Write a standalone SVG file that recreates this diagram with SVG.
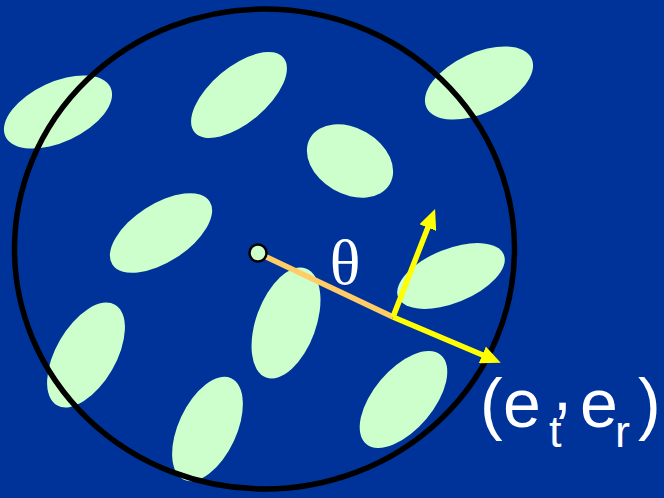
<svg xmlns="http://www.w3.org/2000/svg" width="664" height="498" viewBox="0 0 664 498">
<defs>
<style>
.blob{fill:#CCFFCC;stroke:none}
.yel{stroke:#FFFF00;stroke-width:5.5;fill:none}
.lbl{fill:#FFFFFF;font-family:"Liberation Sans",Arial,sans-serif}
</style>
<marker id="ah" markerUnits="userSpaceOnUse" markerWidth="20" markerHeight="18" refX="8" refY="9" orient="auto" viewBox="0 0 20 18">
<path d="M0,0 L20,9 L0,18 z" fill="#FFFF00"/>
</marker>
</defs>
<rect width="664" height="498" fill="#003399"/>
<g id="particles">
<ellipse class="blob" cx="0" cy="0" rx="58" ry="30" transform="translate(58,112) rotate(-25)"/>
<ellipse class="blob" cx="0" cy="0" rx="58" ry="28" transform="translate(239,95) rotate(-40)"/>
<ellipse class="blob" cx="0" cy="0" rx="58" ry="30" transform="translate(479,83) rotate(-25)"/>
<ellipse class="blob" cx="0" cy="0" rx="46" ry="33" transform="translate(350,161) rotate(30)"/>
<ellipse class="blob" cx="0" cy="0" rx="58" ry="29" transform="translate(161,233) rotate(-33)"/>
<ellipse class="blob" cx="0" cy="0" rx="57" ry="27" transform="translate(451,276) rotate(-22)"/>
<ellipse class="blob" cx="0" cy="0" rx="58" ry="30" transform="translate(286,323) rotate(-70)"/>
<ellipse class="blob" cx="0" cy="0" rx="58" ry="30" transform="translate(86,355) rotate(-60)"/>
<ellipse class="blob" cx="0" cy="0" rx="56" ry="29" transform="translate(207.5,429) rotate(-65)"/>
<ellipse class="blob" cx="0" cy="0" rx="58" ry="30" transform="translate(403.5,399.5) rotate(-50)"/>
</g>
<g id="boundary">
<ellipse cx="264.5" cy="249" rx="250" ry="240" fill="none" stroke="#000000" stroke-width="5.5"/>
</g>
<g id="connectors">
<line x1="258" y1="253" x2="393" y2="317" stroke="#FFCC66" stroke-width="5.5"/>
<line class="yel" x1="393" y1="317" x2="430.7" y2="220.2" marker-end="url(#ah)"/>
<line class="yel" x1="393" y1="317" x2="489.7" y2="358" marker-end="url(#ah)"/>
</g>
<g id="origin">
<circle cx="258" cy="253" r="8.5" fill="#CCFFCC" stroke="#000000" stroke-width="2.5"/>
</g>
<g id="theta-label">
<text x="345" y="284" text-anchor="middle" font-family="'Liberation Serif','Times New Roman',serif" font-size="64" fill="#FFFFFF">θ</text>
</g>
<g id="vector-label">
<text class="lbl" font-size="68"><tspan x="480" y="427">(</tspan><tspan x="503" y="427">e</tspan><tspan x="549" y="447" font-size="45">t</tspan><tspan x="553" y="410">,</tspan><tspan x="580" y="427">e</tspan><tspan x="615" y="447" font-size="45">r</tspan><tspan x="638" y="427">)</tspan></text>
</g>
</svg>
